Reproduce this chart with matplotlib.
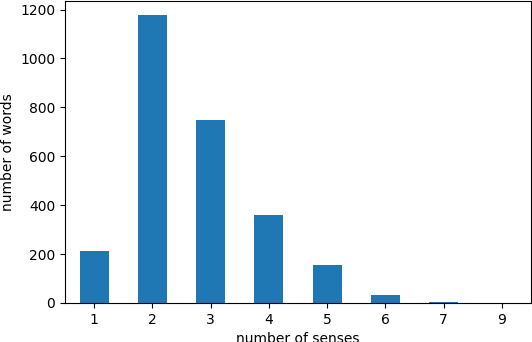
import numpy as np
import matplotlib
matplotlib.use("Agg")
import matplotlib.pyplot as plt

senses = ["1", "2", "3", "4", "5", "6", "7", "9"]
words = [211, 1177, 747, 359, 154, 31, 3, 2]

fig = plt.figure(figsize=(5.32, 3.42), dpi=100)
ax = fig.add_axes([65 / 532, 39 / 342, 466 / 532, 302 / 342])

x = np.arange(len(senses))
ax.bar(x, words, width=0.5, color="#1f77b4")
ax.set_xticks(x)
ax.set_xticklabels(senses)
ax.set_xlim(-0.5, len(senses) - 0.5)
ax.set_ylim(0, 1235)
ax.set_yticks([0, 200, 400, 600, 800, 1000, 1200])
ax.set_xlabel("number of senses")
ax.set_ylabel("number of words")

fig.savefig("out.png", dpi=100)
